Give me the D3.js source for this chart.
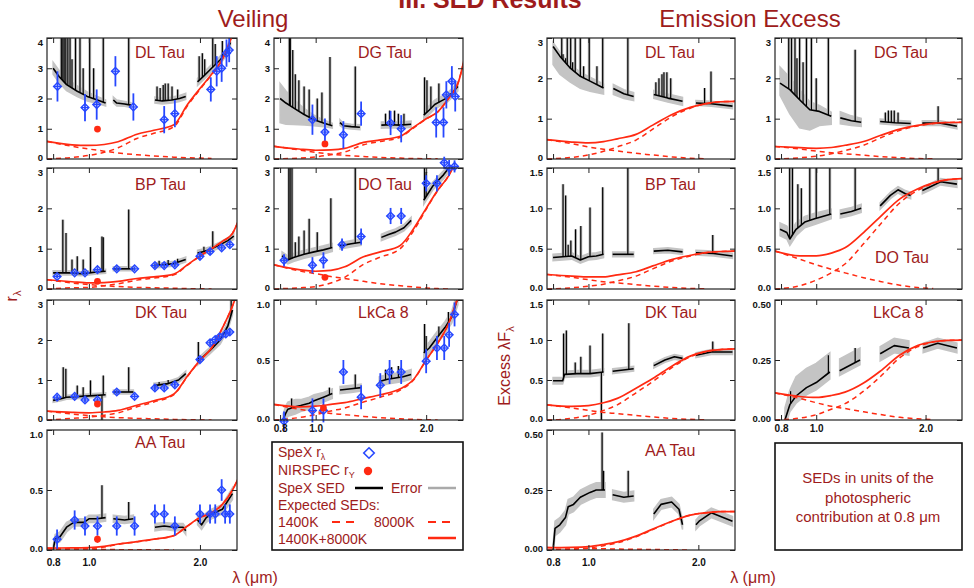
<!DOCTYPE html>
<html><head><meta charset="utf-8">
<script src="https://cdn.jsdelivr.net/npm/d3@7"></script>
<style>body{margin:0;background:#fff;} svg{display:block;font-family:"Liberation Sans",Arial,Helvetica,sans-serif;}</style>
</head><body>
<svg id="chart" width="974" height="588"></svg>
<script>
// ---------------- DATA ----------------
const waveTicks = [0.8, 1.0, 2.0];
const waveTickLabels = ["0.8", "1.0", "2.0"];
const veilWave = [0.77,0.9,1.0,1.1,1.2,1.35,1.5,1.7,1.85,2.0,2.15,2.3,2.45,2.55];
const excessWave = [0.77,0.9,1.0,1.1,1.2,1.35,1.5,1.7,1.9,2.1,2.3,2.55];

// ---- Veiling: DL Tau
const vDLsed = [
 [[0.80,3.0,0.2],[0.83,2.73,0.2],[0.87,2.46,0.2],[0.93,2.24,0.18],[0.99,2.07,0.15],[1.05,1.96,0.12],[1.11,1.85,0.1]],
 [[1.165,1.95,0.1],[1.19,1.85,0.1],[1.25,1.82,0.08],[1.30,1.78,0.08]],
 [[1.51,1.95,0.1],[1.58,1.92,0.1],[1.68,1.95,0.1],[1.76,2.0,0.1],[1.83,2.07,0.1]],
 [[1.97,2.55,0.12],[2.05,2.75,0.12],[2.13,2.95,0.12],[2.27,3.28,0.12],[2.35,3.5,0.12],[2.42,3.85,0.15]]];
const vDLlines = [[0.842,4.5],[0.850,4.5],[0.857,4.5],[0.866,4.5],[0.877,4.5],[0.889,4.5],[0.90,3.3],[0.92,4.5],[0.946,4.5],[0.965,3.0],[1.005,4.5],[1.03,3.0],[1.094,4.5],[1.282,4.5],[1.53,2.4],[1.56,2.35],[1.59,2.45],[1.61,2.5],[1.64,2.5],[1.68,2.4],[1.74,2.3],[1.99,3.4],[2.03,3.5],[2.06,3.3],[2.166,4.5],[2.2,3.8],[2.3,3.9]];
const vDLspex = [[0.822,2.4,0.5],[0.976,1.7,0.45],[1.05,1.8,0.5],[1.18,2.9,0.5],[1.32,1.72,0.45],[1.60,1.3,0.45],[1.71,1.5,0.45],[2.14,2.3,0.4],[2.22,2.9,0.5],[2.29,3.0,0.45],[2.36,3.5,0.45],[2.40,3.6,0.4]];
const vDLnir = [1.055, 0.99];
const vDLhot = [0.58,0.42,0.33,0.26,0.2,0.14,0.1,0.06,0.04,0.03,0.02,null,null,null];
const vDLwarm = [0,0.05,0.12,0.22,0.37,0.68,0.85,1.07,1.76,2.3,2.78,3.3,4.1,4.6];
const vDLtotal = [0.58,0.47,0.45,0.48,0.57,0.82,0.95,1.13,1.8,2.33,2.8,3.3,4.1,4.6];

// ---- Veiling: DG Tau
const vDGsed = [
 [[0.80,2.0,0.8,0.5],[0.83,1.85,0.7,0.4],[0.87,1.69,0.55,0.3],[0.93,1.47,0.35,0.2],[0.99,1.30,0.2,0.15],[1.05,1.19,0.12,0.1],[1.11,1.10,0.08,0.08]],
 [[1.165,1.2,0.1],[1.19,1.1,0.08],[1.25,1.07,0.08],[1.32,1.05,0.08]],
 [[1.51,1.12,0.1],[1.6,1.13,0.1],[1.7,1.12,0.1],[1.82,1.15,0.1]],
 [[1.97,1.45,0.15],[2.04,1.62,0.15],[2.11,1.8,0.15],[2.2,1.92,0.15],[2.28,2.02,0.15],[2.36,2.2,0.15],[2.44,2.4,0.15]]];
const vDGlines = [[0.848,4.5],[0.853,4.5],[0.866,3.6],[0.88,2.8],[0.9,2.6],[0.93,2.4],[0.96,2.3],[1.01,2.0],[1.04,2.2],[1.094,3.37],[1.282,3.06],[1.55,1.5],[1.59,1.6],[1.64,1.6],[1.68,1.5],[1.74,1.5],[1.98,2.7],[2.01,2.6],[2.06,2.4],[2.166,2.5]];
const vDGspex = [[0.98,1.3,0.5],[1.06,0.89,0.45],[1.19,0.8,0.45],[1.33,1.5,0.4],[1.60,1.19,0.4],[1.71,1.0,0.45],[2.13,1.21,0.5],[2.23,1.21,0.5],[2.27,2.12,0.45],[2.35,2.57,0.5],[2.40,2.07,0.5]];
const vDGnir = [1.06, 0.5];
const vDGhot = [0.42,0.3,0.22,0.16,0.12,0.08,0.05,0.03,0.015,0.01,0.005,null,null,null];
const vDGwarm = [0,0.03,0.07,0.14,0.23,0.47,0.58,0.72,1.03,1.32,1.555,2.0,2.55,3.4];
const vDGtotal = [0.42,0.33,0.29,0.3,0.35,0.55,0.63,0.75,1.05,1.33,1.56,2.0,2.55,3.4];

// ---- Veiling: BP Tau
const vBPsed = [
 [[0.80,0.40,0.05],[0.85,0.40,0.05],[0.90,0.40,0.05],[0.95,0.38,0.05],[1.0,0.40,0.05],[1.05,0.42,0.05],[1.11,0.44,0.05]],
 [[1.165,0.5,0.05],[1.25,0.5,0.05],[1.32,0.5,0.05]],
 [[1.50,0.58,0.06],[1.6,0.6,0.06],[1.7,0.63,0.06],[1.83,0.73,0.06]],
 [[1.97,0.89,0.07],[2.05,0.93,0.07],[2.13,0.98,0.07],[2.27,1.1,0.07],[2.38,1.2,0.07],[2.47,1.31,0.08]]];
const vBPlines = [[0.85,1.72],[0.867,1.39],[0.90,0.73],[0.93,0.81],[0.965,0.73],[1.01,1.04],[1.085,1.3],[1.094,1.28],[1.282,1.97],[1.55,0.7],[1.64,0.72],[1.74,0.75],[2.05,1.05],[2.166,1.43]];
const vBPspex = [[0.82,0.31,0.05],[0.915,0.4,0.05],[0.976,0.4,0.05],[1.055,0.48,0.06],[1.19,0.5,0.06],[1.33,0.5,0.06],[1.51,0.58,0.06],[1.6,0.58,0.06],[1.71,0.6,0.06],[2.0,0.81,0.07],[2.13,0.93,0.07],[2.29,1.02,0.07],[2.41,1.1,0.07]];
const vBPnir = [1.055, 0.19];
const vBPhot = [0.23,0.15,0.11,0.08,0.06,0.04,0.03,0.02,0.01,0.005,0,null,null,null];
const vBPwarm = [0,0.03,0.04,0.08,0.13,0.22,0.27,0.35,0.59,0.815,1.0,1.18,1.38,1.72];
const vBPtotal = [0.23,0.18,0.15,0.16,0.19,0.26,0.3,0.37,0.6,0.82,1.0,1.18,1.38,1.72];

// ---- Veiling: DO Tau
const vDOsed = [
 [[0.81,0.82,0.1],[0.84,0.72,0.1],[0.87,0.78,0.1],[0.93,0.86,0.1],[0.99,0.92,0.1],[1.05,0.97,0.1],[1.11,1.03,0.1]],
 [[1.165,1.07,0.08],[1.25,1.12,0.08],[1.33,1.16,0.08]],
 [[1.51,1.28,0.08],[1.58,1.35,0.08],[1.65,1.41,0.08],[1.74,1.52,0.08],[1.82,1.70,0.08]],
 [[1.97,2.2,0.1],[2.08,2.54,0.1],[2.23,2.83,0.1],[2.35,3.1,0.1],[2.42,3.3,0.1]]];
const vDOlines = [[0.845,3.5],[0.852,3.5],[0.862,3.5],[0.88,1.16],[0.90,1.3],[0.93,1.45],[0.96,1.74],[1.01,1.41],[1.10,2.25],[1.282,3.5],[1.98,3.5],[2.0,2.9]];
const vDOspex = [[0.82,0.71,0.15],[0.98,0.59,0.2],[1.05,0.71,0.2],[1.18,1.1,0.15],[1.33,1.3,0.2],[1.60,1.81,0.2],[1.71,1.81,0.2],[2.0,2.62,0.2],[2.14,2.62,0.2],[2.24,3.13,0.15],[2.31,3.0,0.2],[2.39,3.04,0.15]];
const vDOnir = [1.06, 0.29];
const vDOhot = [0.6,0.45,0.38,0.31,0.26,0.19,0.13,0.08,0.05,0.025,0.01,0,null,null];
const vDOwarm = [0,0.03,0.06,0.15,0.29,0.61,0.79,1.0,1.45,1.975,2.44,2.8,3.3,3.6];
const vDOtotal = [0.6,0.48,0.44,0.46,0.55,0.8,0.92,1.08,1.5,2.0,2.45,2.8,3.3,3.6];

// ---- Veiling: DK Tau
const vDKsed = [
 [[0.80,0.49,0.05],[0.84,0.53,0.05],[0.87,0.57,0.05],[0.95,0.59,0.05],[1.03,0.61,0.05],[1.11,0.63,0.05]],
 [[1.165,0.70,0.05],[1.25,0.70,0.05],[1.32,0.70,0.05]],
 [[1.50,0.86,0.06],[1.64,0.91,0.06],[1.75,1.0,0.06],[1.83,1.16,0.06]],
 [[1.97,1.45,0.08],[2.05,1.6,0.08],[2.13,1.74,0.08],[2.27,2.0,0.1],[2.38,2.35,0.1],[2.45,2.75,0.12]]];
const vDKlines = [[0.852,1.32],[0.866,1.28],[0.93,0.86],[0.965,0.82],[1.01,0.99],[1.094,1.11],[1.085,-0.1],[1.282,1.32],[1.55,0.95],[1.64,1.0],[1.98,1.95],[2.166,1.9],[2.43,3.0]];
const vDKspex = [[0.82,0.57,0.06],[0.915,0.59,0.06],[0.976,0.5,0.06],[1.055,0.5,0.06],[1.19,0.7,0.06],[1.33,0.59,0.06],[1.51,0.8,0.07],[1.6,0.8,0.07],[1.71,0.88,0.07],[2.0,1.51,0.07],[2.13,1.93,0.07],[2.2,2.01,0.07],[2.26,2.08,0.07],[2.35,2.15,0.07],[2.41,2.2,0.07]];
const vDKnir = [1.055, 0.4];
const vDKhot = [0.22,0.15,0.11,0.08,0.06,0.04,0.03,0.015,0.008,0.004,0,null,null,null];
const vDKwarm = [0,0.04,0.07,0.12,0.18,0.33,0.45,0.635,1.09,1.486,1.8,2.3,2.85,3.3];
const vDKtotal = [0.22,0.19,0.18,0.2,0.24,0.37,0.48,0.65,1.1,1.49,1.8,2.3,2.85,3.3];

// ---- Veiling: LkCa 8
const vLKsed = [
 [[0.815,0.0,0.05],[0.83,0.06,0.06],[0.84,0.09,0.06],[0.88,0.11,0.06],[0.91,0.12,0.05],[0.96,0.14,0.05],[0.99,0.16,0.05],[1.05,0.19,0.04],[1.11,0.22,0.04]],
 [[1.165,0.25,0.03],[1.25,0.26,0.03],[1.33,0.27,0.03]],
 [[1.49,0.32,0.04],[1.57,0.34,0.04],[1.65,0.35,0.04],[1.73,0.36,0.04],[1.82,0.38,0.04]],
 [[1.97,0.56,0.05],[2.04,0.6,0.05],[2.11,0.66,0.05],[2.25,0.77,0.05],[2.35,0.86,0.05],[2.44,1.02,0.06]]];
const vLKlines = [[0.86,0.18],[1.09,0.27],[1.282,0.38],[1.55,0.42],[1.61,0.44],[1.68,0.45],[1.98,0.8],[2.0,0.7],[2.166,0.78],[2.3,0.9]];
const vLKspex = [[0.82,-0.01,0.08],[0.98,0.08,0.1],[1.05,0.08,0.1],[1.19,0.4,0.1],[1.33,0.19,0.1],[1.50,0.29,0.1],[1.59,0.4,0.1],[1.71,0.4,0.1],[2.0,0.49,0.1],[2.14,0.6,0.1],[2.24,0.6,0.1],[2.31,0.71,0.1],[2.39,0.88,0.1]];
const vLKnir = [1.05, 0.1];
const vLKhot = [0.13,0.09,0.07,0.055,0.045,0.03,0.02,0.01,0.005,0.002,0,null,null,null];
const vLKwarm = [0,0.02,0.045,0.075,0.1,0.15,0.19,0.25,0.335,0.498,0.64,0.8,1.03,1.15];
const vLKtotal = [0.13,0.11,0.115,0.13,0.145,0.18,0.21,0.26,0.34,0.5,0.64,0.8,1.03,1.15];

// ---- Veiling: AA Tau
const vAAsed = [
 [[0.80,0.0,0.03],[0.81,0.09,0.04],[0.835,0.11,0.04],[0.87,0.19,0.04],[0.91,0.23,0.03],[0.97,0.23,0.03],[1.0,0.26,0.03],[1.05,0.26,0.03],[1.11,0.27,0.03]],
 [[1.165,0.26,0.03],[1.25,0.25,0.03],[1.32,0.26,0.03]],
 [[1.51,0.19,0.03],[1.6,0.2,0.03],[1.7,0.19,0.03],[1.8,0.19,0.03],[1.83,0.16,0.03]],
 [[1.97,0.25,0.04],[2.02,0.21,0.04],[2.08,0.27,0.04],[2.15,0.30,0.04],[2.3,0.34,0.04],[2.45,0.47,0.05]]];
const vAAlines = [[1.085,0.54],[1.282,0.40],[2.0,0.32]];
const vAAspex = [[0.82,0.09,0.08],[0.915,0.25,0.08],[0.976,0.2,0.08],[1.055,0.2,0.08],[1.19,0.2,0.08],[1.33,0.2,0.08],[1.51,0.3,0.08],[1.6,0.3,0.08],[1.71,0.2,0.08],[2.0,0.3,0.08],[2.13,0.3,0.08],[2.2,0.3,0.08],[2.29,0.5,0.09],[2.34,0.3,0.08],[2.41,0.3,0.08]];
const vAAnir = [1.055, 0.09, 0.03];
const vAAhot = [0.015,0.01,0.008,0.005,0.003,0.002,0.001,0,null,null,null,null,null,null];
const vAAwarm = [0,0.008,0.012,0.025,0.047,0.068,0.089,0.12,0.2,0.27,0.31,0.38,0.5,0.61];
const vAAtotal = [0.015,0.018,0.02,0.03,0.05,0.07,0.09,0.12,0.2,0.27,0.31,0.38,0.5,0.61];

// ---- Excess: DL Tau
const eDLsed = [
 [[0.80,2.79,0.45,0.1],[0.835,2.55,0.45,0.1],[0.89,2.26,0.35,0.1],[0.95,2.05,0.3,0.1],[1.01,1.93,0.25,0.1],[1.10,1.76,0.15,0.1]],
 [[1.17,1.75,0.15,0.1],[1.25,1.62,0.12,0.1],[1.33,1.55,0.1,0.1]],
 [[1.51,1.6,0.1,0.1],[1.65,1.51,0.1,0.1],[1.81,1.43,0.1,0.1]],
 [[1.97,1.39,0.06],[2.17,1.37,0.06],[2.48,1.31,0.06]]];
const eDLlines = [[0.845,3.5],[0.852,2.6],[0.866,2.5],[0.875,3.5],[0.894,3.5],[0.905,2.4],[0.92,3.5],[0.95,3.5],[0.97,2.3],[1.005,3.5],[1.055,2.3],[1.094,3.5],[1.282,3.5],[1.53,1.9],[1.56,2.0],[1.59,2.1],[1.61,2.15],[1.64,2.15],[1.68,2.0],[2.08,1.76],[2.166,2.17]];
const eDLhot = [0.48,0.38,0.30,0.24,0.20,0.14,0.10,0.05,0.02,0.005,null,null];
const eDLwarm = [0,0.04,0.10,0.19,0.30,0.47,0.74,1.06,1.26,1.37,1.42,1.43];
const eDLtotal = [0.48,0.42,0.40,0.43,0.50,0.61,0.84,1.11,1.28,1.375,1.42,1.43];

// ---- Excess: DG Tau
const eDGsed = [
 [[0.795,1.88,0.3,0.4],[0.846,1.72,0.6,0.3],[0.90,1.47,0.7,0.25],[0.96,1.22,0.5,0.2],[1.02,1.18,0.35,0.15],[1.10,1.06,0.2,0.1]],
 [[1.165,1.02,0.15,0.15],[1.25,0.95,0.12,0.12],[1.33,0.91,0.1,0.1]],
 [[1.50,0.93,0.06],[1.65,0.9,0.06],[1.82,0.88,0.06]],
 [[1.96,0.89,0.06],[2.2,0.89,0.06],[2.44,0.81,0.06]]];
const eDGlines = [[0.84,3.5],[0.855,3.5],[0.874,3.5],[0.885,2.5],[0.90,3.5],[0.92,2.4],[0.94,3.5],[0.97,3.5],[1.0,2.0],[1.08,3.5],[1.28,2.71],[1.55,1.15],[1.58,1.2],[1.61,1.2],[1.64,1.2],[1.68,1.15],[2.166,1.31]];
const eDGhot = [0.31,0.25,0.195,0.155,0.13,0.093,0.062,0.031,0.012,0.003,null,null];
const eDGwarm = [0,0.03,0.07,0.13,0.21,0.34,0.52,0.71,0.82,0.88,0.905,0.91];
const eDGtotal = [0.31,0.28,0.265,0.285,0.34,0.433,0.582,0.741,0.832,0.883,0.905,0.91];

// ---- Excess: BP Tau
const eBPsed = [
 [[0.80,0.39,0.04],[0.85,0.40,0.04],[0.90,0.41,0.04],[0.95,0.36,0.04],[1.0,0.40,0.04],[1.05,0.41,0.04],[1.10,0.43,0.04]],
 [[1.165,0.43,0.03],[1.33,0.43,0.03]],
 [[1.51,0.47,0.03],[1.65,0.48,0.03],[1.81,0.46,0.03]],
 [[1.97,0.45,0.03],[2.2,0.44,0.03],[2.48,0.41,0.03]]];
const eBPlines = [[0.852,1.30],[0.866,1.16],[0.88,0.55],[0.895,0.6],[0.922,0.74],[0.953,0.78],[1.01,1.01],[1.094,1.26],[1.282,1.6],[2.19,0.67]];
const eBPhot = [0.18,0.145,0.115,0.09,0.075,0.054,0.036,0.018,0.007,0.002,null,null];
const eBPwarm = [0,0.015,0.035,0.06,0.10,0.16,0.25,0.35,0.41,0.45,0.465,0.47];
const eBPtotal = [0.18,0.16,0.15,0.15,0.175,0.214,0.286,0.368,0.417,0.452,0.465,0.47];

// ---- Excess: DO Tau
const eDOsed = [
 [[0.795,0.74,0.08],[0.83,0.70,0.08],[0.846,0.62,0.08],[0.88,0.74,0.08],[0.93,0.83,0.07],[0.99,0.87,0.07],[1.10,0.93,0.06]],
 [[1.165,0.93,0.05],[1.25,0.96,0.05],[1.33,1.0,0.05]],
 [[1.50,1.03,0.04],[1.6,1.16,0.04],[1.68,1.23,0.04],[1.76,1.18,0.04],[1.82,1.16,0.04]],
 [[1.96,1.22,0.04],[2.09,1.28,0.04],[2.2,1.33,0.04],[2.44,1.30,0.04]]];
const eDOlines = [[0.845,1.6],[0.86,1.6],[0.89,1.3],[0.91,1.25],[0.96,1.6],[1.0,1.6],[1.09,1.6],[1.28,1.6],[2.166,1.6]];
const eDOhot = [0.47,0.37,0.30,0.245,0.20,0.14,0.094,0.047,0.019,0.005,null,null];
const eDOwarm = [0,0.04,0.11,0.2,0.31,0.56,0.80,1.07,1.22,1.31,1.355,1.37];
const eDOtotal = [0.47,0.41,0.41,0.445,0.51,0.70,0.894,1.117,1.239,1.315,1.355,1.37];

// ---- Excess: DK Tau
const eDKsed = [
 [[0.80,0.49,0.04],[0.85,0.49,0.04],[0.86,0.57,0.04],[0.93,0.58,0.04],[1.01,0.58,0.04],[1.10,0.60,0.04]],
 [[1.165,0.61,0.03],[1.33,0.64,0.03]],
 [[1.51,0.68,0.03],[1.62,0.75,0.03],[1.72,0.79,0.03],[1.81,0.77,0.03]],
 [[1.97,0.81,0.03],[2.17,0.85,0.03],[2.48,0.85,0.03]]];
const eDKlines = [[0.855,1.08],[0.87,1.12],[0.92,0.72],[0.953,0.79],[1.01,0.93],[1.094,1.08],[1.085,-0.1],[1.29,1.21],[2.19,0.98]];
const eDKhot = [0.19,0.15,0.12,0.095,0.08,0.057,0.038,0.019,0.008,0.002,null,null];
const eDKwarm = [0,0.02,0.06,0.12,0.19,0.34,0.48,0.66,0.79,0.855,0.88,0.89];
const eDKtotal = [0.19,0.17,0.18,0.215,0.27,0.397,0.518,0.679,0.798,0.857,0.88,0.89];

// ---- Excess: LkCa 8
const eLKsed = [
 [[0.82,0.0,0.03,0.05],[0.846,0.064,0.03,0.06],[0.88,0.10,0.03,0.08],[0.94,0.135,0.03,0.08],[1.0,0.156,0.03,0.08],[1.09,0.20,0.03,0.08]],
 [[1.16,0.205,0.02,0.05],[1.32,0.25,0.02,0.05]],
 [[1.50,0.276,0.03],[1.64,0.31,0.03],[1.80,0.30,0.03]],
 [[1.97,0.30,0.02],[2.16,0.32,0.02],[2.44,0.30,0.02]]];
const eLKlines = [[0.85,0.12],[1.08,0.27],[1.28,0.30]];
const eLKhot = [0.113,0.09,0.072,0.057,0.048,0.034,0.023,0.011,0.005,0.001,null,null];
const eLKwarm = [0,0.008,0.022,0.045,0.068,0.12,0.18,0.26,0.305,0.325,0.332,0.333];
const eLKtotal = [0.113,0.098,0.094,0.102,0.116,0.154,0.203,0.271,0.31,0.326,0.332,0.333];

// ---- Excess: AA Tau
const eAAsed = [
 [[0.80,0.0,0.02],[0.81,0.09,0.03],[0.835,0.105,0.03],[0.865,0.135,0.03],[0.88,0.18,0.03],[0.91,0.19,0.03],[0.95,0.22,0.03],[1.01,0.24,0.03],[1.05,0.25,0.03],[1.11,0.25,0.03]],
 [[1.165,0.23,0.02],[1.25,0.22,0.02],[1.33,0.225,0.02]],
 [[1.51,0.15,0.02],[1.58,0.19,0.02],[1.69,0.2,0.02],[1.77,0.17,0.02],[1.81,0.105,0.02]],
 [[1.97,0.105,0.02],[2.01,0.12,0.02],[2.17,0.155,0.02],[2.48,0.12,0.02]]];
const eAAlines = [[1.09,0.49],[1.10,0.33],[1.285,0.33]];
const eAAhot = [0.01,0.008,0.006,0.005,0.004,0.003,0.002,0.001,0,null,null,null];
const eAAwarm = [0,0.003,0.008,0.018,0.03,0.055,0.085,0.12,0.145,0.155,0.16,0.16];
const eAAtotal = [0.01,0.011,0.014,0.023,0.034,0.058,0.087,0.121,0.145,0.155,0.16,0.16];

const legendLabels = ["SpeX r", "NIRSPEC r", "SpeX SED", "Error", "Expected SEDs:", "1400K", "8000K", "1400K+8000K"];
const noteLines = ["SEDs in units of the", "photospheric", "contribution at 0.8 \u03bcm"];

// ---------------- LAYOUT / STYLE ----------------
const TXT = "#9e1c1c", RED = "#ff2a12", BLUE = "#2748ff", GRAY = "#c4c4c4";
const colX = [47, 274, 547, 775], colW = [190, 189, 188, 187];
const rowY = [38, 168, 300, 430], rowH = [121, 121, 120, 120];

const panels = [
 {name:"DL Tau",kind:"v",c:0,r:0,ymax:4,ticks:[0,1,2,3,4],dec:0,sed:vDLsed,lines:vDLlines,spex:vDLspex,nir:vDLnir,hot:vDLhot,warm:vDLwarm,total:vDLtotal,tx:88,ty:20},
 {name:"BP Tau",kind:"v",c:0,r:1,ymax:3,ticks:[0,1,2,3],dec:0,sed:vBPsed,lines:vBPlines,spex:vBPspex,nir:vBPnir,hot:vBPhot,warm:vBPwarm,total:vBPtotal,tx:88,ty:22},
 {name:"DK Tau",kind:"v",c:0,r:2,ymax:3,ticks:[0,1,2,3],dec:0,sed:vDKsed,lines:vDKlines,spex:vDKspex,nir:vDKnir,hot:vDKhot,warm:vDKwarm,total:vDKtotal,tx:88,ty:18},
 {name:"AA Tau",kind:"v",c:0,r:3,ymax:1,ticks:[0,0.5,1],dec:1,sed:vAAsed,lines:vAAlines,spex:vAAspex,nir:vAAnir,hot:vAAhot,warm:vAAwarm,total:vAAtotal,tx:88,ty:18,xl:true,xpad:9},
 {name:"DG Tau",kind:"v",c:1,r:0,ymax:4,ticks:[0,1,2,3,4],dec:0,sed:vDGsed,lines:vDGlines,spex:vDGspex,nir:vDGnir,hot:vDGhot,warm:vDGwarm,total:vDGtotal,tx:84,ty:20},
 {name:"DO Tau",kind:"v",c:1,r:1,ymax:3,ticks:[0,1,2,3],dec:0,sed:vDOsed,lines:vDOlines,spex:vDOspex,nir:vDOnir,hot:vDOhot,warm:vDOwarm,total:vDOtotal,tx:84,ty:22},
 {name:"LkCa 8",kind:"v",c:1,r:2,ymax:1,ticks:[0,0.5,1],dec:1,sed:vLKsed,lines:vLKlines,spex:vLKspex,nir:vLKnir,hot:vLKhot,warm:vLKwarm,total:vLKtotal,tx:84,ty:18,xl:true,xpad:5},
 {name:"DL Tau",kind:"e",c:2,r:0,ymax:3,ticks:[0,1,2,3],dec:0,sed:eDLsed,lines:eDLlines,hot:eDLhot,warm:eDLwarm,total:eDLtotal,tx:98,ty:20},
 {name:"BP Tau",kind:"e",c:2,r:1,ymax:1.5,ticks:[0,0.5,1,1.5],dec:1,sed:eBPsed,lines:eBPlines,hot:eBPhot,warm:eBPwarm,total:eBPtotal,tx:98,ty:22},
 {name:"DK Tau",kind:"e",c:2,r:2,ymax:1.5,ticks:[0,0.5,1,1.5],dec:1,sed:eDKsed,lines:eDKlines,hot:eDKhot,warm:eDKwarm,total:eDKtotal,tx:98,ty:18},
 {name:"AA Tau",kind:"e",c:2,r:3,ymax:0.5,ticks:[0,0.25,0.5],dec:2,sed:eAAsed,lines:eAAlines,hot:eAAhot,warm:eAAwarm,total:eAAtotal,tx:98,ty:26,xl:true,xpad:9},
 {name:"DG Tau",kind:"e",c:3,r:0,ymax:3,ticks:[0,1,2,3],dec:0,sed:eDGsed,lines:eDGlines,hot:eDGhot,warm:eDGwarm,total:eDGtotal,tx:99,ty:20},
 {name:"DO Tau",kind:"e",c:3,r:1,ymax:1.5,ticks:[0,0.5,1,1.5],dec:1,sed:eDOsed,lines:eDOlines,hot:eDOhot,warm:eDOwarm,total:eDOtotal,tx:100,ty:95},
 {name:"LkCa 8",kind:"e",c:3,r:2,ymax:0.5,ticks:[0,0.25,0.5],dec:2,sed:eLKsed,lines:eLKlines,hot:eLKhot,warm:eLKwarm,total:eLKtotal,tx:98,ty:18,xl:true,xpad:5}
];

const svg = d3.select("#chart");
const defs = svg.append("defs");

function segmentValueAt(sed, lam) {
  // continuum level under an emission line (from the segment holding it)
  let seg = sed.find(s => lam >= s[0][0] && lam <= s[s.length-1][0]);
  if (!seg) seg = sed.reduce((a,b) => Math.abs(b[0][0]-lam) < Math.abs(a[0][0]-lam) ? b : a);
  const i = d3.bisector(d => d[0]).left(seg, lam);
  if (i <= 0) return seg[0][1];
  if (i >= seg.length) return seg[seg.length-1][1];
  const a = seg[i-1], b = seg[i], t = (lam - a[0])/(b[0]-a[0]);
  return a[1] + t*(b[1]-a[1]);
}

panels.forEach((p, idx) => {
  const W = colW[p.c], H = rowH[p.r];
  const g = svg.append("g").attr("transform", `translate(${colX[p.c]},${rowY[p.r]})`);
  const x = d3.scaleLog().domain([0.77, 2.52]).range([0, W]);
  const y = d3.scaleLinear().domain([0, p.ymax]).range([H, 0]);
  const cid = "clip" + idx;
  defs.append("clipPath").attr("id", cid).append("rect").attr("width", W).attr("height", H);
  const inner = g.append("g").attr("clip-path", `url(#${cid})`);

  // error band
  const band = d3.area().x(d => x(d[0])).y0(d => y(d[1] - d[2])).y1(d => y(d[1] + (d[3] === undefined ? d[2] : d[3])));
  inner.selectAll("path.band").data(p.sed).join("path").attr("class","band")
    .attr("d", band).attr("fill", GRAY).attr("stroke", GRAY).attr("stroke-width", 1.5);
  // gray halos of emission lines
  inner.selectAll("line.lg").data(p.lines).join("line").attr("class","lg")
    .attr("x1", d => x(d[0])).attr("x2", d => x(d[0]))
    .attr("y1", d => y(segmentValueAt(p.sed, d[0]))).attr("y2", d => y(d[1]))
    .attr("stroke", GRAY).attr("stroke-width", 3);
  // black SED
  const line = d3.line().x(d => x(d[0])).y(d => y(d[1]));
  inner.selectAll("path.sed").data(p.sed).join("path").attr("class","sed")
    .attr("d", line).attr("fill", "none").attr("stroke", "#000").attr("stroke-width", 1.6).attr("stroke-linejoin","round");
  inner.selectAll("line.lb").data(p.lines).join("line").attr("class","lb")
    .attr("x1", d => x(d[0])).attr("x2", d => x(d[0]))
    .attr("y1", d => y(segmentValueAt(p.sed, d[0]))).attr("y2", d => y(d[1]))
    .attr("stroke", "#000").attr("stroke-width", 1.2);

  // expected SEDs
  const waves = p.kind === "v" ? veilWave : excessWave;
  const mline = d3.line().defined(d => d[1] !== null).x(d => x(d[0])).y(d => y(d[1])).curve(d3.curveMonotoneX);
  const mk = arr => waves.map((w, i) => [w, arr[i]]);
  inner.append("path").attr("d", mline(mk(p.hot))).attr("fill","none").attr("stroke",RED).attr("stroke-width",1.5).attr("stroke-dasharray","5,4");
  inner.append("path").attr("d", mline(mk(p.warm))).attr("fill","none").attr("stroke",RED).attr("stroke-width",1.5).attr("stroke-dasharray","5,4");
  inner.append("path").attr("d", mline(mk(p.total))).attr("fill","none").attr("stroke",RED).attr("stroke-width",1.7);

  // SpeX veiling points (not clipped)
  if (p.spex) {
    const sp = g.append("g");
    sp.selectAll("line.eb").data(p.spex).join("line").attr("class","eb")
      .attr("x1", d => x(d[0])).attr("x2", d => x(d[0]))
      .attr("y1", d => y(d[1]-d[2])).attr("y2", d => y(d[1]+d[2]))
      .attr("stroke", BLUE).attr("stroke-width", 1.8);
    sp.selectAll("line.hb").data(p.spex).join("line").attr("class","hb")
      .attr("x1", d => x(d[0]) - 4).attr("x2", d => x(d[0]) + 4)
      .attr("y1", d => y(d[1])).attr("y2", d => y(d[1]))
      .attr("stroke", BLUE).attr("stroke-width", 1.2);
    sp.selectAll("path.dm").data(p.spex).join("path").attr("class","dm")
      .attr("d", d3.symbol().type(d3.symbolDiamond2).size(38))
      .attr("transform", d => `translate(${x(d[0])},${y(d[1])})`)
      .attr("fill", "none").attr("stroke", BLUE).attr("stroke-width", 1.4);
  }
  if (p.nir) {
    if (p.nir[2]) g.append("line").attr("x1", x(p.nir[0])).attr("x2", x(p.nir[0]))
      .attr("y1", y(p.nir[1]-p.nir[2])).attr("y2", y(p.nir[1]+p.nir[2])).attr("stroke", RED).attr("stroke-width", 1.5);
    g.append("circle").attr("cx", x(p.nir[0])).attr("cy", y(p.nir[1])).attr("r", 3.4).attr("fill", RED);
  }

  // frame & axes (IDL style, ticks inside on all sides)
  g.append("rect").attr("width", W).attr("height", H).attr("fill","none").attr("stroke","#222").attr("stroke-width",1.2);
  const fmt = d => d3.format(`.${p.dec}f`)(d);
  const yl = g.append("g").call(d3.axisLeft(y).tickValues(p.ticks).tickSize(-5).tickPadding(4).tickFormat(fmt));
  const yr = g.append("g").attr("transform", `translate(${W},0)`).call(d3.axisRight(y).tickValues(p.ticks).tickSize(-5).tickFormat(""));
  const xb = g.append("g").attr("transform", `translate(0,${H})`).call(d3.axisBottom(x).tickValues(waveTicks).tickSize(-5).tickPadding(p.xpad || 6)
      .tickFormat((d,i) => p.xl ? waveTickLabels[i] : ""));
  const xt = g.append("g").call(d3.axisTop(x).tickValues(waveTicks).tickSize(-5).tickFormat(""));
  [yl, yr, xb, xt].forEach(a => {
    a.select(".domain").remove();
    a.selectAll(".tick line").attr("stroke", "#222").attr("stroke-width", 1);
    a.selectAll("text").attr("fill", "#111").attr("font-size", 9.5).attr("font-weight", "bold")
      .attr("font-family", "'Liberation Sans',Arial,sans-serif");
  });
  // keep end labels inside the panel's height, as IDL does
  yl.selectAll("text").attr("dy", "0.32em")
    .attr("transform", d => d === p.ymax ? "translate(0,4)" : (d === 0 ? "translate(0,-2)" : null));
  xb.selectAll("text").attr("font-size", 10);

  g.append("text").attr("x", p.tx).attr("y", p.ty).text(p.name)
    .attr("fill", TXT).attr("font-size", 16);
});

// titles
svg.append("text").attr("x", 490).attr("y", 8).attr("text-anchor","middle").attr("fill",TXT)
  .attr("font-size", 25).attr("font-weight","bold").text("III. SED Results");
svg.append("text").attr("x", 253).attr("y", 27).attr("text-anchor","middle").attr("fill",TXT).attr("font-size", 24).text("Veiling");
svg.append("text").attr("x", 750).attr("y", 27).attr("text-anchor","middle").attr("fill",TXT).attr("font-size", 24).text("Emission Excess");

// axis titles
const rl = svg.append("text").attr("transform","translate(17,296) rotate(-90)").attr("text-anchor","middle").attr("fill",TXT).attr("font-size",16);
rl.append("tspan").text("r");
rl.append("tspan").attr("font-size",11).attr("dy",4).text("\u03bb");
const el = svg.append("text").attr("transform","translate(510,366) rotate(-90)").attr("text-anchor","middle").attr("fill",TXT).attr("font-size",16);
el.append("tspan").text("Excess \u03bbF");
el.append("tspan").attr("font-size",11).attr("dy",4).text("\u03bb");
svg.append("text").attr("x",255).attr("y",583).attr("text-anchor","middle").attr("fill",TXT).attr("font-size",16).text("\u03bb (\u03bcm)");
svg.append("text").attr("x",753).attr("y",583).attr("text-anchor","middle").attr("fill",TXT).attr("font-size",16).text("\u03bb (\u03bcm)");

// legend box
const lg = svg.append("g");
lg.append("rect").attr("x",272).attr("y",442).attr("width",191).attr("height",108).attr("fill","#fff").attr("stroke","#111").attr("stroke-width",1.6);
const lt = (xx, yy, s) => lg.append("text").attr("x",xx).attr("y",yy).attr("fill",TXT).attr("font-size",14).text(s);
const t1 = lt(278, 457, legendLabels[0]); t1.append("tspan").attr("font-size",9).attr("dy",3).text("\u03bb");
const t2 = lt(278, 475, legendLabels[1]); t2.append("tspan").attr("font-size",9).attr("dy",3).text("Y");
lt(278, 493, legendLabels[2]); lt(391, 493, legendLabels[3]);
lt(278, 510, legendLabels[4]);
lt(278, 527, legendLabels[5]); lt(374, 527, legendLabels[6]);
lt(278, 544, legendLabels[7]);
lg.append("path").attr("d", d3.symbol().type(d3.symbolDiamond2).size(70)).attr("transform","translate(369,453)")
  .attr("fill","none").attr("stroke",BLUE).attr("stroke-width",1.6);
lg.append("circle").attr("cx",368).attr("cy",471).attr("r",4.2).attr("fill",RED);
lg.append("line").attr("x1",355).attr("x2",383).attr("y1",488).attr("y2",488).attr("stroke","#000").attr("stroke-width",2.5);
lg.append("line").attr("x1",428).attr("x2",456).attr("y1",488).attr("y2",488).attr("stroke","#aaa").attr("stroke-width",2.5);
lg.append("line").attr("x1",332).attr("x2",358).attr("y1",522).attr("y2",522).attr("stroke",RED).attr("stroke-width",2).attr("stroke-dasharray","8,6");
lg.append("line").attr("x1",428).attr("x2",456).attr("y1",522).attr("y2",522).attr("stroke",RED).attr("stroke-width",2).attr("stroke-dasharray","8,6");
lg.append("line").attr("x1",428).attr("x2",456).attr("y1",538).attr("y2",538).attr("stroke",RED).attr("stroke-width",2.5);

// note box
const nb = svg.append("g");
nb.append("rect").attr("x",775).attr("y",443).attr("width",187).attr("height",107).attr("fill","#fff").attr("stroke","#111").attr("stroke-width",1.6);
nb.selectAll("text").data(noteLines).join("text").attr("x",868).attr("y",(d,i)=>483+i*19.5)
  .attr("text-anchor","middle").attr("fill",TXT).attr("font-size",15).text(d=>d);
</script>
</body></html>
